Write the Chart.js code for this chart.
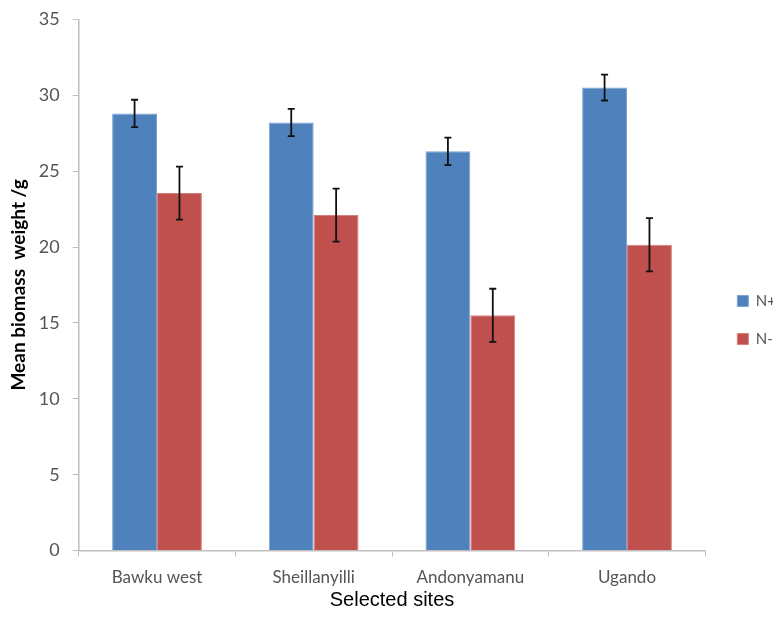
<!DOCTYPE html>
<html>
<head>
<meta charset="utf-8">
<script src="https://cdn.jsdelivr.net/npm/chart.js@4/dist/chart.umd.min.js"></script>
<style>
html,body{margin:0;padding:0;background:#fff;overflow:hidden;}
#wrap{width:773px;height:636px;position:relative;}
</style>
</head>
<body>
<div id="wrap"><canvas id="c" width="773" height="636"></canvas></div>
<script>
const categories = ["Bawku west", "Sheillanyilli", "Andonyamanu", "Ugando"];
const seriesNames = ["N+", "N-"];
const nPlus = [28.8, 28.2, 26.3, 30.5];
const nMinus = [23.55, 22.1, 15.5, 20.15];
const errPlus = [0.9, 0.9, 0.9, 0.85];
const errMinus = [1.75, 1.75, 1.75, 1.75];
const yTicks = [0, 5, 10, 15, 20, 25, 30, 35];

const errors = [errPlus, errMinus];

const errorBarPlugin = {
  id: 'errorBars',
  afterDatasetsDraw(chart) {
    const ctx = chart.ctx;
    const y = chart.scales.y;
    ctx.save();
    ctx.strokeStyle = '#111';
    ctx.lineWidth = 1.8;
    chart.data.datasets.forEach((ds, di) => {
      const meta = chart.getDatasetMeta(di);
      meta.data.forEach((bar, i) => {
        const v = ds.data[i], e = errors[di][i];
        const yTop = y.getPixelForValue(v + e);
        const yBot = y.getPixelForValue(v - e);
        const x = bar.x;
        ctx.beginPath();
        ctx.moveTo(x, yTop); ctx.lineTo(x, yBot);
        ctx.moveTo(x - 3.5, yTop); ctx.lineTo(x + 3.5, yTop);
        ctx.moveTo(x - 3.5, yBot); ctx.lineTo(x + 3.5, yBot);
        ctx.stroke();
      });
    });
    ctx.restore();
  }
};

const legendShift = {
  id: 'legendShift',
  afterLayout(chart) {
    if (chart.legend) { chart.legend.left += 9; chart.legend.right += 9; }
  }
};

new Chart(document.getElementById('c'), {
  type: 'bar',
  data: {
    labels: categories,
    datasets: [
      { label: seriesNames[0], data: nPlus, backgroundColor: '#4F81BD', borderColor: '#7aa3d6', borderWidth: 1 },
      { label: seriesNames[1], data: nMinus, backgroundColor: '#C0504D', borderColor: '#d67c79', borderWidth: 1 }
    ]
  },
  options: {
    responsive: false,
    animation: false,
    devicePixelRatio: 1,
    layout: { padding: { top: 13, right: -4, bottom: 9, left: 4 } },
    datasets: { bar: { barPercentage: 1.0, categoryPercentage: 0.573 } },
    plugins: {
      tooltip: { enabled: false },
      legend: {
        position: 'right',
        labels: {
          boxWidth: 11, boxHeight: 11, padding: 23,
          color: '#555', font: { family: 'Lato, "Open Sans", sans-serif', size: 15 }
        }
      }
    },
    scales: {
      x: {
        grid: { drawOnChartArea: false, drawTicks: true, tickLength: 6, color: '#bfbfbf', offset: true },
        border: { color: '#bfbfbf', width: 1.5 },
        ticks: { color: '#555', font: { family: 'Lato, "Open Sans", sans-serif', size: 17 }, padding: 11 },
        title: { display: true, text: 'Selected sites', color: '#000', font: { family: '"Liberation Sans", Arial, sans-serif', size: 20 }, padding: { top: -11, bottom: 15 } }
      },
      y: {
        min: 0, max: 35,
        afterBuildTicks(scale) { scale.ticks = yTicks.map(v => ({ value: v })); },
        grid: { drawOnChartArea: false, drawTicks: true, tickLength: 6, color: '#bfbfbf' },
        border: { color: '#bfbfbf', width: 1.5 },
        ticks: { color: '#555', font: { family: 'Lato, "Open Sans", sans-serif', size: 18, lineHeight: 0.7 }, padding: 13 },
        title: { display: true, text: 'Mean biomass  weight /g', color: '#000', font: { family: 'Lato, "Open Sans", sans-serif', size: 19, weight: 'bold' }, padding: { top: 3, bottom: -4 } }
      }
    }
  },
  plugins: [errorBarPlugin, legendShift]
});
</script>
</body>
</html>
